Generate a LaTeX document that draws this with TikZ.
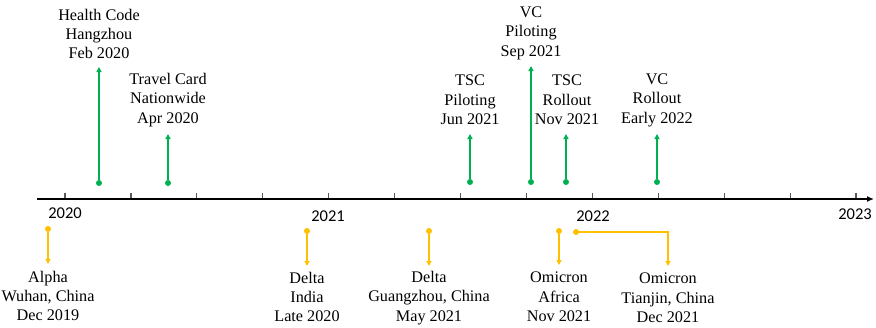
\documentclass[tikz,border=0pt]{standalone}
\usepackage{fontspec}
\setmainfont{Liberation Serif}
\newfontfamily\yearfont{Carlito}
\usetikzlibrary{arrows.meta}
\definecolor{evgreen}{HTML}{00B050}
\definecolor{evyellow}{HTML}{FFC000}
\tikzset{
  axisline/.style={line width=1.8pt, -{Latex[length=7pt,width=6pt]}},
  tickmark/.style={line width=1.2pt, draw=black!65},
  yearlabel/.style={font=\yearfont\fontsize{16.5}{18}\selectfont, inner sep=0pt},
  evtext/.style={align=center, inner sep=0pt, font=\fontsize{16.2}{19.4}\selectfont},
  gdot/.style={circle, fill=evgreen, inner sep=0pt, minimum size=6pt},
  ydot/.style={circle, fill=evyellow, inner sep=0pt, minimum size=6pt},
  garrow/.style={draw=evgreen, line width=1.3pt, -{Triangle[length=5pt,width=5pt]}},
  yarrow/.style={draw=evyellow, line width=1.3pt, -{Triangle[length=5pt,width=5pt]}},
}
\begin{document}
\begin{tikzpicture}[x=1pt, y=-1pt]
\useasboundingbox (0,0) rectangle (876,327);

% time axis with quarterly ticks
\coordinate (axstart) at (37,199);
\coordinate (axend) at (874,199);
\foreach \i in {0,...,12} {
  \draw[tickmark] ({65+\i*65.92},192.5) -- ({65+\i*65.92},199);
}
\draw[axisline] (axstart) -- (axend);

% year labels
\node[yearlabel] (y2020) at (65,213) {2020};
\node[yearlabel] (y2021) at (328,216) {2021};
\node[yearlabel] (y2022) at (593,216) {2022};
\node[yearlabel] (y2023) at (855,214) {2023};

% policy milestones (above the axis)
\node[gdot] (hcdot) at (99,183) {};
\coordinate (hctop) at (99,67);
\draw[garrow] (hcdot) -- (hctop);
\node[evtext] (hc) at (99,34) {Health Code\\Hangzhou\\Feb 2020};

\node[gdot] (tcdot) at (168,183) {};
\coordinate (tctop) at (168,134);
\draw[garrow] (tcdot) -- (tctop);
\node[evtext] (tc) at (168,100) {Travel Card\\Nationwide\\Apr 2020};

\node[gdot] (tspdot) at (470,182) {};
\coordinate (tsptop) at (470,134);
\draw[garrow] (tspdot) -- (tsptop);
\node[evtext] (tsp) at (470,100) {TSC\\Piloting\\Jun 2021};

\node[gdot] (vcpdot) at (531,182) {};
\coordinate (vcptop) at (531,66);
\draw[garrow] (vcpdot) -- (vcptop);
\node[evtext] (vcp) at (531,33) {VC\\Piloting\\Sep 2021};

\node[gdot] (tsrdot) at (566,182) {};
\coordinate (tsrtop) at (566,134);
\draw[garrow] (tsrdot) -- (tsrtop);
\node[evtext] (tsr) at (567,100) {TSC\\Rollout\\Nov 2021};

\node[gdot] (vcrdot) at (657,182) {};
\coordinate (vcrtop) at (657,134);
\draw[garrow] (vcrdot) -- (vcrtop);
\node[evtext] (vcr) at (657,100) {VC\\Rollout\\Early 2022};

% variant outbreaks (below the axis)
\node[ydot] (aldot) at (48,229) {};
\coordinate (albot) at (48,264);
\draw[yarrow] (aldot) -- (albot);
\node[evtext] (al) at (48,296) {Alpha\\Wuhan, China\\Dec 2019};

\node[ydot] (didot) at (307,231) {};
\coordinate (dibot) at (307,266);
\draw[yarrow] (didot) -- (dibot);
\node[evtext] (di) at (307,297) {Delta\\India\\Late 2020};

\node[ydot] (dgdot) at (429,231) {};
\coordinate (dgbot) at (429,266);
\draw[yarrow] (dgdot) -- (dgbot);
\node[evtext] (dg) at (429,298) {Delta\\Guangzhou, China\\May 2021};

\node[ydot] (oadot) at (559,231) {};
\coordinate (oabot) at (559,265);
\draw[yarrow] (oadot) -- (oabot);
\node[evtext] (oa) at (559,297) {Omicron\\Africa\\Nov 2021};

\node[ydot] (otdot) at (576,232) {};
\coordinate (otbot) at (668,266);
\draw[yarrow] (otdot) -| (otbot);
\node[evtext] (ot) at (668,298) {Omicron\\Tianjin, China\\Dec 2021};
\end{tikzpicture}
\end{document}
